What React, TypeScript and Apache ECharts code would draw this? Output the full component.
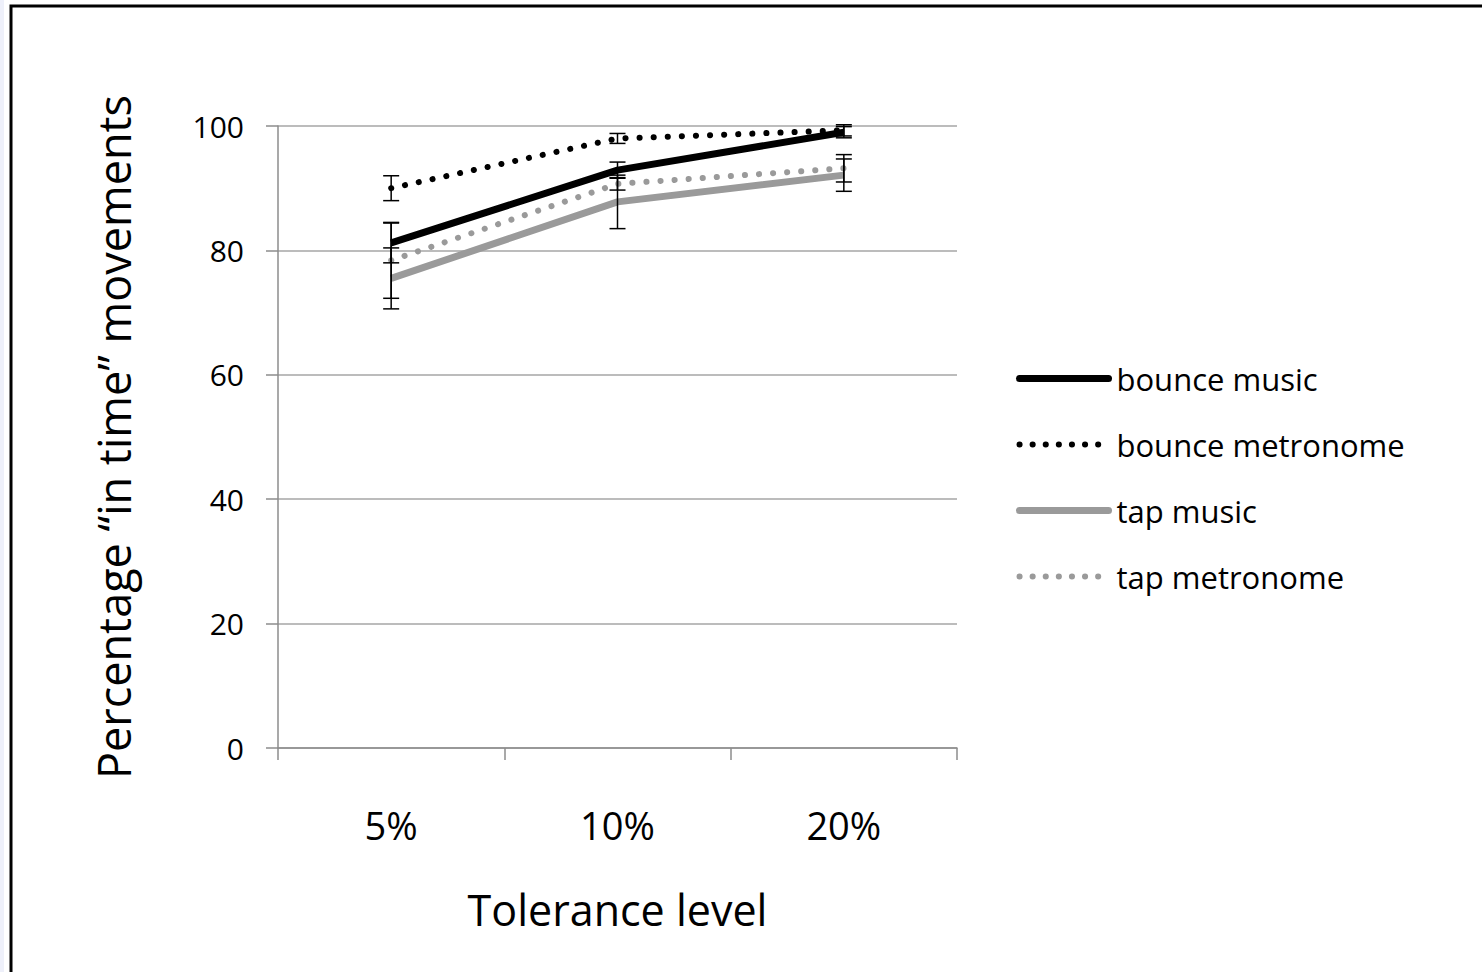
import React, { useEffect, useRef } from "react";
import * as echarts from "echarts";

const categories = ["5%", "10%", "20%"];
const yTicks = [0, 20, 40, 60, 80, 100];

const bounceMusic = [81.2, 92.9, 99.0];
const bounceMetronome = [90.0, 98.0, 99.3];
const tapMusic = [75.5, 87.8, 92.1];
const tapMetronome = [78.4, 90.7, 93.2];

const bounceMusicErr = [3.2, 1.3, 0.9];
const bounceMetronomeErr = [2.0, 0.8, 0.9];
const tapMusicErr = [4.9, 4.3, 2.6];
const tapMetronomeErr = [6.1, 1.0, 2.2];

const seriesNames = ["bounce music", "bounce metronome", "tap music", "tap metronome"];

const FONT = "'Open Sans', 'Noto Sans', sans-serif";
const GREY = "#9a9a9a";

function errData(vals: number[], errs: number[]) {
  return vals.map((v, i) => [i, v - errs[i], v + errs[i]]);
}

export default function App() {
  const ref = useRef<HTMLDivElement>(null);
  useEffect(() => {
    document.body.style.margin = "0";
    const chart = echarts.init(ref.current!, null, { renderer: "svg" });
    const errRender = (params: any, api: any) => {
      const lo = api.coord([api.value(0), api.value(1)]);
      const hi = api.coord([api.value(0), api.value(2)]);
      const hw = 8;
      const style = { stroke: "#000", lineWidth: 1.5 };
      return {
        type: "group",
        children: [
          { type: "line", shape: { x1: lo[0], y1: lo[1], x2: hi[0], y2: hi[1] }, style },
          { type: "line", shape: { x1: lo[0] - hw, y1: lo[1], x2: lo[0] + hw, y2: lo[1] }, style },
          { type: "line", shape: { x1: hi[0] - hw, y1: hi[1], x2: hi[0] + hw, y2: hi[1] }, style },
        ],
      };
    };
    const errSeries = (vals: number[], errs: number[]) => ({
      type: "custom",
      renderItem: errRender,
      data: errData(vals, errs),
      z: 5,
      silent: true,
      encode: { x: 0, y: [1, 2] },
    });
    const dotted = { type: [0.1, 14], cap: "round" };
    const noSym = { color: "rgba(0,0,0,0)", borderWidth: 0, opacity: 0 };
    chart.setOption({
      animation: false,
      backgroundColor: "#fff",
      grid: { left: 278, right: 525, top: 126, bottom: 224 },
      xAxis: {
        type: "category",
        data: categories,
        boundaryGap: true,
        name: "Tolerance level",
        nameLocation: "middle",
        nameGap: 140,
        nameTextStyle: { fontSize: 43, color: "#000", fontFamily: FONT },
        axisLine: { lineStyle: { color: "#8c8c8c", width: 1.5 } },
        axisTick: { show: true, length: 12, alignWithLabel: false, lineStyle: { color: "#8c8c8c", width: 1.5 } },
        axisLabel: { fontSize: 38, color: "#000", fontFamily: FONT, margin: 58 },
      },
      yAxis: {
        type: "value",
        min: 0,
        max: 100,
        interval: 20,
        name: "Percentage \u201cin time\u201d movements",
        nameLocation: "middle",
        nameGap: 142,
        nameRotate: 90,
        nameTextStyle: { fontSize: 45, color: "#000", fontFamily: FONT },
        axisLine: { show: true, lineStyle: { color: "#8c8c8c", width: 1.5 } },
        axisTick: { show: true, length: 12, lineStyle: { color: "#8c8c8c", width: 1.5 } },
        splitLine: { lineStyle: { color: "#a6a6a6", width: 1.5 } },
        axisLabel: {
          fontSize: 30,
          color: "#000",
          fontFamily: FONT,
          margin: 34,
          formatter: (v: number) => (yTicks.includes(v) ? String(v) : ""),
        },
      },
      legend: {
        orient: "vertical",
        left: 1011,
        top: 358,
        itemWidth: 89,
        itemHeight: 14,
        itemGap: 35,
        textStyle: { fontSize: 31, color: "#000", fontFamily: FONT, lineHeight: 30, padding: [0, 0, 0, 3] },
        data: [
          { name: seriesNames[0], itemStyle: noSym, lineStyle: { color: "#000", width: 7, cap: "round" } },
          { name: seriesNames[1], itemStyle: noSym, lineStyle: { color: "#000", width: 6, type: [0.1, 13], cap: "round" } },
          { name: seriesNames[2], itemStyle: noSym, lineStyle: { color: GREY, width: 7, cap: "round" } },
          { name: seriesNames[3], itemStyle: noSym, lineStyle: { color: GREY, width: 6, type: [0.1, 13], cap: "round" } },
        ],
      },
      graphic: [
        { type: "rect", shape: { x: 0, y: 0, width: 4, height: 972 }, style: { fill: "#eef0fa" }, z: 0 },
        { type: "rect", shape: { x: 11, y: 6, width: 1600, height: 1100 }, style: { fill: "none", stroke: "#000", lineWidth: 3 }, z: 100 },
      ],
      series: [
        errSeries(bounceMusic, bounceMusicErr),
        errSeries(bounceMetronome, bounceMetronomeErr),
        errSeries(tapMusic, tapMusicErr),
        errSeries(tapMetronome, tapMetronomeErr),
        { name: seriesNames[0], type: "line", data: bounceMusic, symbol: "none", color: "#000", lineStyle: { color: "#000", width: 7 }, z: 4 },
        { name: seriesNames[1], type: "line", data: bounceMetronome, symbol: "none", color: "#000", lineStyle: { color: "#000", width: 6, ...dotted }, z: 4 },
        { name: seriesNames[2], type: "line", data: tapMusic, symbol: "none", color: GREY, lineStyle: { color: GREY, width: 7 }, z: 3 },
        { name: seriesNames[3], type: "line", data: tapMetronome, symbol: "none", color: GREY, lineStyle: { color: GREY, width: 6, ...dotted }, z: 3 },
      ],
    });
    return () => chart.dispose();
  }, []);
  return <div ref={ref} style={{ position: "absolute", left: 0, top: 0, width: 1482, height: 972 }} />;
}
